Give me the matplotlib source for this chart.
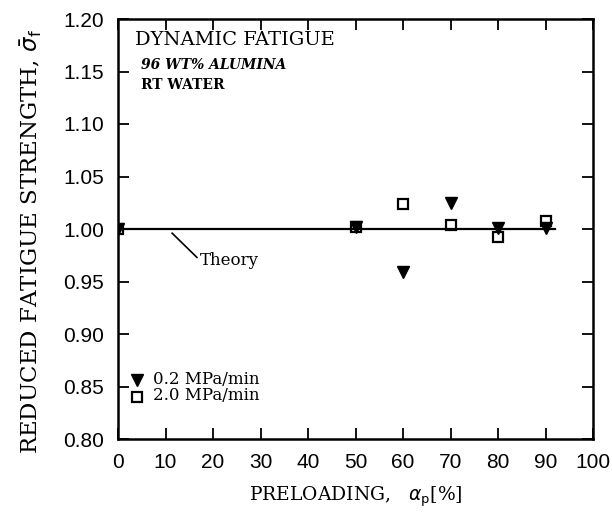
import matplotlib
matplotlib.use("Agg")
import matplotlib.pyplot as plt

# Preloading level (%) and reduced fatigue strength for each stressing rate
preload_02 = [0, 50, 60, 70, 80, 90]
strength_02 = [1.000, 1.002, 0.959, 1.025, 1.001, 1.001]

preload_20 = [0, 50, 60, 70, 80, 90]
strength_20 = [1.000, 1.002, 1.024, 1.004, 0.992, 1.008]

theory_x = [0, 92]
theory_y = [1.0, 1.0]

x_ticks = [0, 10, 20, 30, 40, 50, 60, 70, 80, 90, 100]
y_ticks = [0.80, 0.85, 0.90, 0.95, 1.00, 1.05, 1.10, 1.15, 1.20]

serif = ["DejaVu Serif"]
sans = ["Liberation Sans"]

fig = plt.figure(figsize=(6.12, 5.17), dpi=100)
ax = fig.add_axes([118 / 612, 1 - 439 / 517, (593 - 118) / 612, (439 - 19) / 517])

ax.plot(theory_x, theory_y, color="black", lw=1.6, zorder=2)
ax.plot(preload_02, strength_02, linestyle="none", marker="v", ms=9,
        color="black", zorder=3)
ax.plot(preload_20, strength_20, linestyle="none", marker="s", ms=7.5,
        mfc="none", mec="black", mew=1.6, zorder=3)

ax.set_xlim(0, 100)
ax.set_ylim(0.80, 1.20)
ax.set_xticks(x_ticks)
ax.set_yticks(y_ticks)
ax.set_yticklabels([f"{v:.2f}" for v in y_ticks])
ax.tick_params(direction="in", length=8, width=1.3, top=True, right=True,
               labelsize=15)
ax.tick_params(axis="x", pad=10)
ax.tick_params(axis="y", pad=10)
for lab in ax.get_xticklabels() + ax.get_yticklabels():
    lab.set_family(sans)
for s in ax.spines.values():
    s.set_linewidth(1.8)

# Annotation of the theoretical line
ax.plot([11.4, 16.6], [0.996, 0.973], color="black", lw=1.2)
ax.text(17.3, 0.970, "Theory", family=serif, fontsize=12, va="center")

# Header text
ax.text(3.6, 1.180, "DYNAMIC FATIGUE", family=serif, fontsize=14, va="center")
ax.text(4.8, 1.156, "96 WT% ALUMINA", family=serif, fontsize=10, va="center",
        style="italic", weight="bold")
ax.text(4.8, 1.137, "RT WATER", family=serif, fontsize=10, va="center",
        weight="bold")

# Legend entries
ax.plot([4.0], [0.856], linestyle="none", marker="v", ms=9, color="black")
ax.plot([4.0], [0.840], linestyle="none", marker="s", ms=7.5, mfc="none",
        mec="black", mew=1.6)
ax.text(7.4, 0.857, "0.2 MPa/min", family=serif, fontsize=12, va="center")
ax.text(7.4, 0.841, "2.0 MPa/min", family=serif, fontsize=12, va="center")

ax.set_xlabel(r"PRELOADING,   $\alpha_\mathrm{p}$[%]", family=serif,
              fontsize=13.5, labelpad=9)
ax.set_ylabel(r"REDUCED FATIGUE STRENGTH, $\bar{\sigma}_\mathrm{f}$",
              family=serif, fontsize=16.5)
ax.yaxis.set_label_coords(-0.155, 0.47)

fig.savefig("out.png", dpi=100)
